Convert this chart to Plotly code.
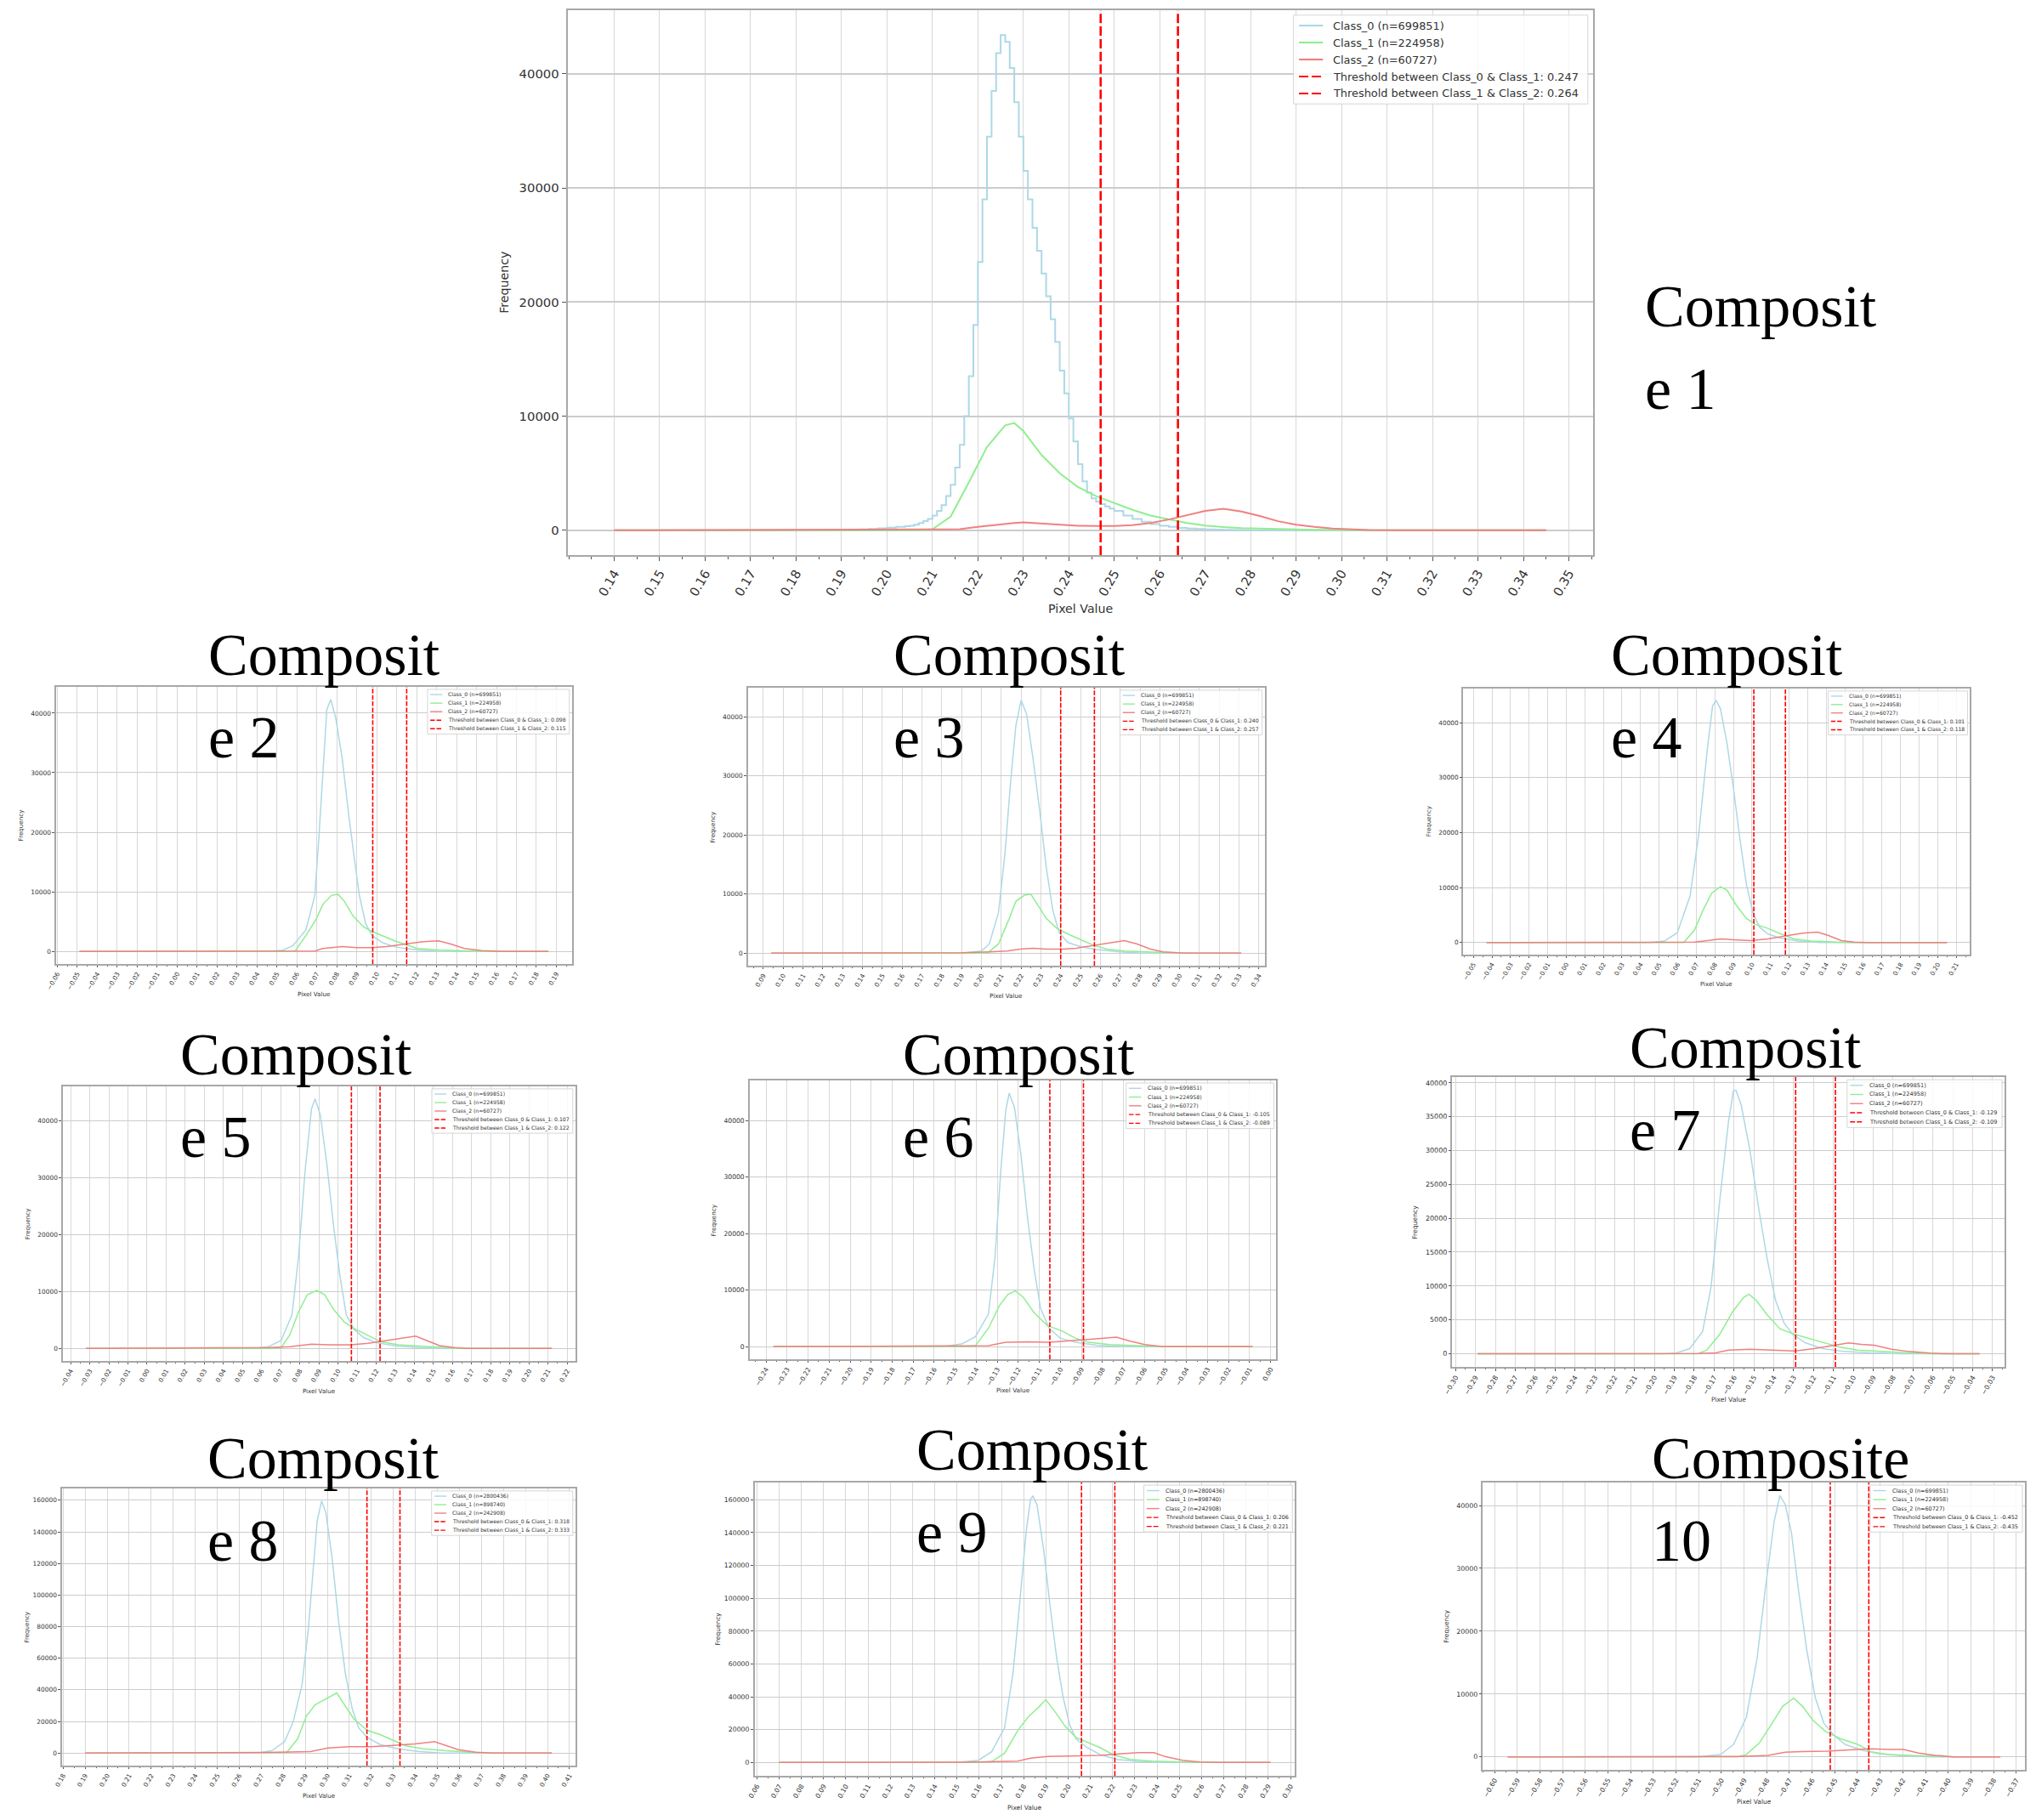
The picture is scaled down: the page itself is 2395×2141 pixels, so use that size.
import plotly.graph_objects as go

W, H = 2395, 2141

# ---------------------------------------------------------------- data
# Composite 1 (large panel); Class_0 drawn as a step histogram (bin left edges)
p1_c0_x = [0.140, 0.190, 0.192, 0.194, 0.196, 0.198, 0.200, 0.202, 0.204,
           0.205, 0.206, 0.207, 0.208, 0.209, 0.210, 0.211, 0.212, 0.213, 0.214,
           0.215, 0.216, 0.217, 0.218, 0.219, 0.220, 0.221, 0.222, 0.223, 0.224,
           0.225, 0.226, 0.227, 0.228, 0.229, 0.230, 0.231, 0.232, 0.233, 0.234,
           0.235, 0.236, 0.237, 0.238, 0.239, 0.240, 0.241, 0.242, 0.243, 0.244,
           0.245, 0.246, 0.247, 0.248, 0.249, 0.250, 0.252, 0.254, 0.256, 0.258,
           0.260, 0.262, 0.264, 0.266, 0.268, 0.270, 0.272, 0.274, 0.276, 0.278,
           0.280, 0.345]
p1_c0_y = [0, 40, 60, 90, 120, 170, 230, 300, 360,
           400, 500, 650, 800, 1000, 1300, 1700, 2200, 3000, 4000,
           5500, 7500, 10000, 13500, 18000, 23500, 29000, 34500, 38500, 41800,
           43400, 42800, 40500, 37500, 34500, 31500, 29000, 26500, 24500, 22500,
           20500, 18500, 16500, 14000, 12000, 9800, 7800, 5800, 4300, 3300,
           2800, 2500, 2300, 2100, 1900, 1700, 1300, 1000, 750, 550,
           400, 300, 220, 160, 120, 90, 65, 45, 30, 20,
           0, 0]
p1_c1_x = [0.140, 0.206, 0.210, 0.214, 0.218, 0.222, 0.226, 0.228, 0.230, 0.234,
           0.238, 0.242, 0.246, 0.250, 0.254, 0.258, 0.262, 0.266, 0.270, 0.274,
           0.278, 0.282, 0.286, 0.290, 0.294, 0.300, 0.306, 0.345]
p1_c1_y = [0, 0, 100, 1200, 4200, 7300, 9200, 9400, 8700, 6600,
           5000, 3800, 3000, 2400, 1800, 1300, 950, 650, 420, 280,
           200, 150, 110, 80, 50, 20, 0, 0]
p1_c2_x = [0.140, 0.170, 0.200, 0.210, 0.216, 0.220, 0.224, 0.228, 0.230, 0.234,
           0.238, 0.242, 0.246, 0.250, 0.254, 0.258, 0.262, 0.266, 0.270, 0.274,
           0.278, 0.282, 0.286, 0.290, 0.294, 0.298, 0.302, 0.306, 0.312, 0.345]
p1_c2_y = [0, 20, 60, 80, 100, 300, 500, 650, 700, 600,
           450, 400, 380, 380, 450, 650, 950, 1350, 1700, 1880,
           1650, 1250, 800, 500, 300, 160, 80, 30, 0, 0]

# Composite 2
p2_c0_x = [-0.049, 0.045, 0.053, 0.058, 0.0645, 0.069, 0.071, 0.073, 0.075, 0.077, 0.0795,
           0.0827, 0.086, 0.089, 0.0913, 0.0945, 0.0977, 0.103, 0.1095, 0.120, 0.131, 0.186]
p2_c0_y = [0, 0, 200, 960, 3600, 9400, 19000, 30500, 40600, 42300, 39100,
           32400, 22800, 15100, 9400, 4600, 2650, 1450, 720, 240, 0, 0]
p2_c1_x = [-0.049, 0.059, 0.0645, 0.0698, 0.073, 0.0773, 0.0806, 0.0838, 0.088, 0.0934,
           0.0977, 0.103, 0.1095, 0.115, 0.120, 0.131, 0.1417, 0.1525, 0.186]
p2_c1_y = [0, 0, 2640, 5500, 7900, 9400, 9600, 8400, 6000, 4100,
           3350, 2650, 1700, 1100, 500, 240, 140, 0, 0]
p2_c2_x = [-0.049, 0.045, 0.069, 0.073, 0.0827, 0.090, 0.0977, 0.105, 0.115, 0.1224,
           0.131, 0.1374, 0.1439, 0.1525, 0.163, 0.186]
p2_c2_y = [0, 50, 60, 480, 820, 620, 620, 820, 1300, 1580,
           1780, 1200, 480, 140, 0, 0]

# Composite 3
p3_c0_x = [0.094, 0.190, 0.200, 0.204, 0.2086, 0.2119, 0.2147, 0.2174, 0.220, 0.2228, 0.2261,
           0.2294, 0.2327, 0.236, 0.2392, 0.2436, 0.2502, 0.2578, 0.2699, 0.2808, 0.331]
p3_c0_y = [0, 0, 340, 1540, 6830, 16900, 28900, 38560, 42790, 40480, 32790,
           24130, 14520, 7300, 3460, 1780, 1060, 580, 190, 0, 0]
p3_c1_x = [0.094, 0.2031, 0.2086, 0.2141, 0.2174, 0.2217, 0.225, 0.2283, 0.2327, 0.2381,
           0.2436, 0.2502, 0.2567, 0.2633, 0.2721, 0.283, 0.2918, 0.303, 0.331]
p3_c1_y = [0, 0, 1540, 5870, 8750, 9800, 9950, 8270, 5870, 4180,
           3220, 2260, 1300, 670, 340, 190, 100, 0, 0]
p3_c2_x = [0.094, 0.190, 0.2042, 0.213, 0.2195, 0.2261, 0.2327, 0.2414, 0.248, 0.2567,
           0.2644, 0.2721, 0.2786, 0.2852, 0.2918, 0.3027, 0.331]
p3_c2_y = [0, 50, 190, 340, 670, 820, 670, 670, 820, 1300,
           1780, 2115, 1540, 670, 190, 0, 0]

# Composite 4
p4_c0_x = [-0.043, 0.045, 0.0528, 0.0598, 0.0667, 0.0714, 0.076, 0.0788, 0.0807, 0.083, 0.0865,
           0.090, 0.0935, 0.097, 0.1005, 0.104, 0.1086, 0.1156, 0.1249, 0.1365, 0.205]
p4_c0_y = [0, 0, 260, 1800, 8520, 19870, 35350, 43100, 44030, 42580, 36390,
           28130, 18840, 10580, 5420, 2840, 1550, 770, 260, 0, 0]
p4_c1_x = [-0.043, 0.0633, 0.0691, 0.0737, 0.0784, 0.083, 0.0865, 0.0912, 0.097, 0.1016,
           0.1086, 0.1156, 0.1226, 0.1319, 0.1458, 0.155, 0.205]
p4_c1_y = [0, 0, 2320, 5940, 9030, 10170, 9550, 6970, 4390, 3350,
           2580, 1550, 670, 260, 100, 0, 0]
p4_c2_x = [-0.043, 0.045, 0.0691, 0.076, 0.083, 0.090, 0.0993, 0.1086, 0.1179, 0.1272,
           0.1353, 0.1412, 0.1481, 0.1551, 0.1621, 0.205]
p4_c2_y = [0, 50, 100, 360, 670, 520, 360, 670, 1190, 1700,
           1910, 1290, 360, 100, 0, 0]

# Composite 5
p5_c0_x = [-0.032, 0.055, 0.0634, 0.0702, 0.0759, 0.0793, 0.0827, 0.0861, 0.088, 0.0907, 0.0941,
           0.0975, 0.1009, 0.1043, 0.1082, 0.1134, 0.1202, 0.1316, 0.143, 0.1543, 0.212]
p5_c0_y = [0, 0, 300, 1400, 5930, 16000, 31050, 42100, 43870, 41100, 32560,
           22000, 12960, 5930, 3420, 1910, 1000, 400, 150, 0, 0]
p5_c1_x = [-0.032, 0.065, 0.0702, 0.0748, 0.0793, 0.0839, 0.0889, 0.093, 0.0975, 0.1032,
           0.1089, 0.1157, 0.1225, 0.1316, 0.143, 0.1543, 0.1634, 0.212]
p5_c1_y = [0, 0, 150, 2410, 6430, 9450, 10200, 9450, 6930, 4670,
           3420, 2310, 1160, 650, 400, 200, 0, 0]
p5_c2_x = [-0.032, 0.045, 0.0634, 0.0748, 0.0861, 0.0952, 0.1066, 0.1157, 0.1236, 0.1316,
           0.1407, 0.1464, 0.1532, 0.1611, 0.168, 0.212]
p5_c2_y = [0, 50, 150, 300, 750, 650, 650, 900, 1300, 1760,
           2160, 1400, 500, 150, 0, 0]

# Composite 6
p6_c0_x = [-0.2365, -0.155, -0.1466, -0.1404, -0.1342, -0.1311, -0.1284, -0.126, -0.1243, -0.1218,
           -0.1187, -0.1156, -0.1125, -0.1094, -0.1053, -0.1001, -0.0929, -0.0826, -0.0722, -0.0086]
p6_c0_y = [0, 0, 500, 1750, 5750, 15750, 30750, 41750, 44850, 42250,
           33750, 22750, 13750, 6750, 3250, 1500, 750, 250, 0, 0]
p6_c1_x = [-0.2365, -0.145, -0.1404, -0.1342, -0.129, -0.1249, -0.1214, -0.1177, -0.1125,
           -0.1063, -0.0991, -0.0929, -0.0867, -0.0764, -0.064, -0.0516, -0.0086]
p6_c1_y = [0, 0, 150, 3250, 7250, 9250, 9850, 8750, 6000,
           3750, 2750, 1500, 750, 350, 150, 0, 0]
p6_c2_x = [-0.2365, -0.160, -0.1466, -0.1342, -0.126, -0.1156, -0.1053, -0.097, -0.0888,
           -0.0805, -0.0733, -0.0671, -0.0598, -0.0516, -0.0086]
p6_c2_y = [0, 50, 100, 150, 750, 850, 750, 1000, 1250,
           1500, 1650, 1000, 350, 0, 0]

# Composite 7
p7_c0_x = [-0.289, -0.195, -0.1888, -0.1823, -0.1758, -0.1715, -0.1672, -0.1628, -0.1603, -0.159,
           -0.1564, -0.152, -0.1477, -0.1434, -0.1391, -0.1348, -0.1305, -0.124, -0.1153, -0.1045,
           -0.0916, -0.0765, -0.0365]
p7_c0_y = [0, 0, 125, 750, 3260, 9960, 22510, 34230, 38830, 38910,
           36740, 30040, 21670, 14140, 7870, 4520, 2850, 1590, 750, 330,
           125, 0, 0]
p7_c1_x = [-0.289, -0.178, -0.1737, -0.1672, -0.1607, -0.1553, -0.1525, -0.1488, -0.1434, -0.1369,
           -0.1294, -0.1218, -0.1132, -0.1067, -0.098, -0.0873, -0.0743, -0.0592, -0.0365]
p7_c1_y = [0, 0, 540, 2850, 6190, 8280, 8790, 7870, 5770, 3680,
           2850, 2220, 1590, 960, 540, 330, 170, 0, 0]
p7_c2_x = [-0.289, -0.190, -0.178, -0.1693, -0.1628, -0.152, -0.1413, -0.1294, -0.1197, -0.111,
           -0.1024, -0.0959, -0.0894, -0.0808, -0.0721, -0.0613, -0.0527, -0.0365]
p7_c2_y = [0, 20, 40, 125, 540, 670, 540, 420, 750, 1170,
           1590, 1380, 1260, 670, 330, 80, 0, 0]

# Composite 8
p8_c0_x = [0.190, 0.268, 0.2747, 0.2806, 0.2845, 0.2885, 0.2914, 0.2934, 0.2954, 0.2974, 0.2993,
           0.3023, 0.3052, 0.3082, 0.3112, 0.3141, 0.3181, 0.324, 0.3319, 0.3417, 0.3516, 0.402]
p8_c0_y = [0, 0, 1430, 7170, 19730, 43050, 78920, 114800, 147090, 159500, 152470,
           121970, 82510, 50220, 28700, 16140, 9870, 5380, 2690, 900, 0, 0]
p8_c1_x = [0.190, 0.276, 0.2816, 0.2865, 0.2905, 0.2944, 0.2993, 0.3043, 0.3082, 0.3121,
           0.3181, 0.324, 0.3299, 0.3358, 0.3437, 0.3536, 0.3654, 0.3733, 0.402]
p8_c1_y = [0, 0, 360, 8970, 23320, 30490, 34080, 38030, 29600, 21520,
           14350, 11660, 8070, 4480, 2690, 1430, 540, 0, 0]
p8_c2_x = [0.190, 0.260, 0.2727, 0.2924, 0.3003, 0.3102, 0.320, 0.3299, 0.3398, 0.3486,
           0.3536, 0.3595, 0.3674, 0.3753, 0.402]
p8_c2_y = [0, 150, 360, 900, 3230, 3950, 3950, 4840, 5740, 7170,
           5020, 2150, 540, 0, 0]

# Composite 9
p9_c0_x = [0.070, 0.150, 0.1597, 0.1656, 0.1714, 0.1753, 0.1783, 0.1812, 0.1831, 0.1841, 0.186,
           0.189, 0.1919, 0.1948, 0.1977, 0.2007, 0.2036, 0.2085, 0.2143, 0.2221, 0.2318, 0.2416, 0.291]
p9_c0_y = [0, 0, 1370, 6530, 21130, 55500, 98450, 141400, 160300, 162370, 156870,
           129380, 95020, 64090, 40030, 22850, 14260, 9110, 4810, 1890, 520, 0, 0]
p9_c1_x = [0.070, 0.160, 0.1656, 0.1714, 0.1773, 0.1822, 0.187, 0.1899, 0.1938, 0.1987,
           0.2036, 0.2085, 0.2143, 0.2201, 0.2279, 0.2377, 0.2474, 0.2572, 0.291]
p9_c1_y = [0, 0, 520, 5670, 19420, 28010, 34020, 38320, 31440, 21990,
           15120, 12540, 9110, 4810, 1890, 860, 340, 0, 0]
p9_c2_x = [0.070, 0.1539, 0.1773, 0.1831, 0.1909, 0.2026, 0.2143, 0.224, 0.2318, 0.2386,
           0.2435, 0.2513, 0.2591, 0.2669, 0.291]
p9_c2_y = [0, 170, 860, 2580, 3610, 3950, 4300, 5330, 6010, 6010,
           3610, 1370, 340, 0, 0]

# Composite 10
p10_c0_x = [-0.5943, -0.510, -0.5004, -0.4947, -0.489, -0.4842, -0.4805, -0.4767, -0.4742, -0.4719,
            -0.4691, -0.4662, -0.4624, -0.4586, -0.4548, -0.4507, -0.4453, -0.4378, -0.4302,
            -0.4188, -0.4074, -0.377]
p10_c0_y = [0, 0, 360, 1950, 6250, 15760, 27090, 37510, 41590, 40230,
            35700, 27090, 17120, 9420, 5350, 3530, 1950, 1040, 450,
            140, 0, 0]
p10_c1_x = [-0.5943, -0.4928, -0.489, -0.4833, -0.4776, -0.4729, -0.4681, -0.4643, -0.4596,
            -0.4539, -0.4472, -0.4397, -0.434, -0.4264, -0.415, -0.4036, -0.396, -0.377]
p10_c1_y = [0, 0, 360, 2170, 5350, 8060, 9330, 8060, 5800,
            3990, 2850, 1950, 815, 360, 180, 90, 0, 0]
p10_c2_x = [-0.5943, -0.4909, -0.4795, -0.4719, -0.4643, -0.453, -0.4435, -0.434, -0.4264,
            -0.4197, -0.4131, -0.4055, -0.3979, -0.377]
p10_c2_y = [0, 45, 225, 725, 815, 905, 1090, 1270, 1180,
            1180, 590, 225, 0, 0]

thresholds = [(0.247, 0.264), (0.098, 0.115), (0.240, 0.257), (0.101, 0.118), (0.107, 0.122),
              (-0.105, -0.089), (-0.129, -0.109), (0.318, 0.333), (0.206, 0.221), (-0.452, -0.435)]
counts_small = ("699851", "224958", "60727")
counts_large = ("2800436", "898740", "242908")
class_counts = [counts_small] * 7 + [counts_large] * 2 + [counts_small]
x_tick_first = [0.14, -0.06, 0.09, -0.05, -0.04, -0.24, -0.30, 0.18, 0.06, -0.60]
x_tick_last = [0.35, 0.19, 0.34, 0.21, 0.22, 0.00, -0.03, 0.41, 0.30, -0.37]
title_line1 = ["Composit"] * 9 + ["Composite"]
title_line2 = ["e 1", "e 2", "e 3", "e 4", "e 5", "e 6", "e 7", "e 8", "e 9", "10"]

series = [
    [(p1_c0_x, p1_c0_y), (p1_c1_x, p1_c1_y), (p1_c2_x, p1_c2_y)],
    [(p2_c0_x, p2_c0_y), (p2_c1_x, p2_c1_y), (p2_c2_x, p2_c2_y)],
    [(p3_c0_x, p3_c0_y), (p3_c1_x, p3_c1_y), (p3_c2_x, p3_c2_y)],
    [(p4_c0_x, p4_c0_y), (p4_c1_x, p4_c1_y), (p4_c2_x, p4_c2_y)],
    [(p5_c0_x, p5_c0_y), (p5_c1_x, p5_c1_y), (p5_c2_x, p5_c2_y)],
    [(p6_c0_x, p6_c0_y), (p6_c1_x, p6_c1_y), (p6_c2_x, p6_c2_y)],
    [(p7_c0_x, p7_c0_y), (p7_c1_x, p7_c1_y), (p7_c2_x, p7_c2_y)],
    [(p8_c0_x, p8_c0_y), (p8_c1_x, p8_c1_y), (p8_c2_x, p8_c2_y)],
    [(p9_c0_x, p9_c0_y), (p9_c1_x, p9_c1_y), (p9_c2_x, p9_c2_y)],
    [(p10_c0_x, p10_c0_y), (p10_c1_x, p10_c1_y), (p10_c2_x, p10_c2_y)],
]

# ---------------------------------------------------------------- layout (pixels)
# plot frames: left, right, top, bottom
frames = [(659, 1871, 12, 653), (54, 664, 808, 1134), (872, 1483, 809, 1136),
          (1718, 2317, 810, 1123), (62, 668, 1278, 1601), (874, 1497, 1271, 1599),
          (1705, 2358, 1267, 1608), (61, 668, 1751, 2077), (880, 1519, 1744, 2089),
          (1741, 2382, 1744, 2082)]
# caption: left edge, baseline of first line
title_pos = [(1931, 383), (232, 793), (1042, 793), (1890, 793), (199, 1263),
             (1053, 1263), (1913, 1255), (231, 1738), (1069, 1728), (1939, 1738)]
LINE_GAP = 97

COLORS = ["#ADD8E6", "#90EE90", "#F08080"]
SANS = "DejaVu Sans"


def fx(px):
    return px / W


def fy(py):
    return 1 - py / H


fig = go.Figure()
shapes, annos, axes = [], [], {}

for i in range(10):
    k = i + 1
    sfx = "" if k == 1 else str(k)
    L, R, T, B = frames[i]
    s = (R - L) / 94.0  # font unit for this panel
    tick_fs = 1.15 * s
    lw = 2.0 if k == 1 else 1.5

    for j, (x, y) in enumerate(series[i]):
        fig.add_trace(go.Scatter(
            x=x, y=y, mode="lines", xaxis="x" + sfx, yaxis="y" + sfx,
            line=dict(color=COLORS[j], width=lw,
                      shape="hv" if (k == 1 and j == 0) else "linear"),
            showlegend=False, hoverinfo="skip"))

    xs = [v for x, _ in series[i] for v in x]
    ys = [v for _, y in series[i] for v in y]
    xmin, xmax = min(xs), max(xs)
    pad = 0.05 * (xmax - xmin)
    ymax = max(ys)
    dt = 20000 if ymax > 100000 else (5000 if ymax < 40000 else 10000)

    n = int(round((x_tick_last[i] - x_tick_first[i]) / 0.01)) + 1
    tv = [round(x_tick_first[i] + m * 0.01, 2) + 0.0 for m in range(n)]
    tt = [f"{v:.2f}".replace("-", "\u2212") for v in tv]

    frame_w = max(1.5, 0.14 * s)
    axes["xaxis" + sfx] = dict(
        domain=[fx(L), fx(R)], anchor="y" + sfx, range=[xmin - pad, xmax + pad],
        tickmode="array", tickvals=tv, ticktext=tt, tickangle=-60,
        tickfont=dict(family=SANS, size=tick_fs, color="#333"),
        ticks="outside", ticklen=0.4 * s, tickwidth=max(1, 0.08 * s), tickcolor="#555",
        showgrid=True, gridcolor="#d8d8d8", gridwidth=max(1, 0.08 * s),
        showline=True, linecolor="#a8a8a8", linewidth=frame_w, mirror=True, zeroline=False,
        minor=dict(tickmode="linear", tick0=0, dtick=0.005, ticks="outside",
                   ticklen=0.25 * s, tickcolor="#555", showgrid=False),
    )
    axes["yaxis" + sfx] = dict(
        domain=[fy(B), fy(T)], anchor="x" + sfx, range=[-0.05 * ymax, 1.05 * ymax],
        tickmode="linear", tick0=0, dtick=dt, tickformat="d",
        tickfont=dict(family=SANS, size=tick_fs, color="#333"),
        ticks="outside", ticklen=0.4 * s, tickwidth=max(1, 0.08 * s), tickcolor="#555",
        showgrid=True, gridcolor="#cccccc", gridwidth=max(1.2, 0.12 * s),
        showline=True, linecolor="#a8a8a8", linewidth=frame_w, mirror=True, zeroline=False,
    )

    dash = f"{0.85 * s:.1f}px,{0.3 * s:.1f}px"
    tw = max(1.6, 0.2 * s)
    for t in thresholds[i]:
        shapes.append(dict(type="line", xref="x" + sfx, yref=f"y{sfx} domain",
                           x0=t, x1=t, y0=0, y1=1,
                           line=dict(color="red", width=tw, dash=dash)))

    # legend (drawn by hand so it can be scaled with the panel)
    c = class_counts[i]
    labels = [f"Class_0 (n={c[0]})", f"Class_1 (n={c[1]})", f"Class_2 (n={c[2]})",
              f"Threshold between Class_0 & Class_1: {thresholds[i][0]:.3f}",
              f"Threshold between Class_1 & Class_2: {thresholds[i][1]:.3f}"]
    fs = s if k == 1 else 0.95 * s
    row = 1.55 * s
    text_w = 0.545 * fs * max(len(t) for t in labels)
    bw = s * (0.5 + 2.2 + 0.8 + 0.6) + text_w
    bh = s * 1.9 + 4 * row
    bx1 = R - 0.45 * s
    bx0 = bx1 - bw
    by0 = T + 0.45 * s
    shapes.append(dict(type="rect", xref="paper", yref="paper",
                       x0=fx(bx0), x1=fx(bx1), y0=fy(by0 + bh), y1=fy(by0),
                       line=dict(color="#d6d6d6", width=1),
                       fillcolor="rgba(255,255,255,0.85)", layer="above"))
    for r, lab in enumerate(labels):
        cy = by0 + 0.95 * s + r * row
        lx0 = bx0 + 0.5 * s
        lx1 = lx0 + 2.2 * s
        shapes.append(dict(type="line", xref="paper", yref="paper",
                           x0=fx(lx0), x1=fx(lx1), y0=fy(cy), y1=fy(cy),
                           line=dict(color=COLORS[r] if r < 3 else "red",
                                     width=max(1.4, 0.17 * s),
                                     dash="solid" if r < 3 else dash)))
        annos.append(dict(xref="paper", yref="paper", x=fx(lx1 + 0.8 * s), y=fy(cy),
                          xanchor="left", yanchor="middle", text=lab, showarrow=False,
                          font=dict(family=SANS, size=fs, color="#333")))

    # axis titles
    annos.append(dict(xref="paper", yref="paper", x=fx((L + R) / 2),
                      y=fy(B + (4.9 if k == 1 else 5.5) * s),
                      xanchor="center", yanchor="middle", text="Pixel Value", showarrow=False,
                      font=dict(family=SANS, size=1.1 * s, color="#333")))
    annos.append(dict(xref="paper", yref="paper", x=fx(L - (5.8 if k == 1 else 6.4) * s),
                      y=fy((T + B) / 2),
                      xanchor="center", yanchor="middle", text="Frequency", textangle=-90,
                      showarrow=False, font=dict(family=SANS, size=1.1 * s, color="#333")))

    # large serif caption, two lines
    tx, tb = title_pos[i]
    for line_text, top in ((title_line1[i], tb - 63), (title_line2[i], tb - 63 + LINE_GAP)):
        annos.append(dict(xref="paper", yref="paper", x=fx(tx), y=fy(top),
                          xanchor="left", yanchor="top", align="left", text=line_text,
                          showarrow=False,
                          font=dict(family="Liberation Serif", size=70, color="black")))

fig.update_layout(
    width=W, height=H, margin=dict(l=0, r=0, t=0, b=0),
    paper_bgcolor="white", plot_bgcolor="white", showlegend=False,
    shapes=shapes, annotations=annos, **axes,
)

fig.write_html("out.html", config={"displayModeBar": False},
               post_script="document.body.style.margin = '0';")
